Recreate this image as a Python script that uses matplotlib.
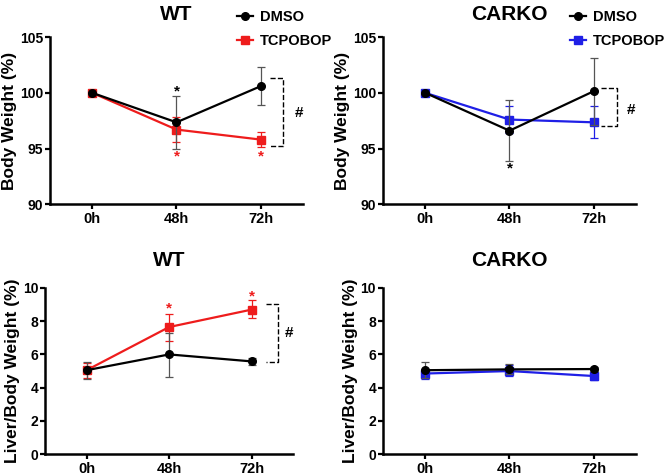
import numpy as np
import matplotlib.pyplot as plt

plt.rcParams['font.family'] = ['Liberation Sans', 'DejaVu Sans']
plt.rcParams['font.weight'] = 'bold'

times = ['0h', '48h', '72h']

# body weight (%), WT
wt_bw_dmso = [100.0, 97.35, 100.6]
wt_bw_dmso_lo = [100.0, 94.95, 98.9]
wt_bw_dmso_hi = [100.0, 99.7, 102.3]
wt_bw_tc = [100.0, 96.7, 95.8]
wt_bw_tc_lo = [100.0, 95.6, 95.1]
wt_bw_tc_hi = [100.0, 97.8, 96.5]

# body weight (%), CARKO
ko_bw_dmso = [100.0, 96.6, 100.15]
ko_bw_dmso_lo = [100.0, 93.85, 97.1]
ko_bw_dmso_hi = [100.0, 99.4, 103.15]
ko_bw_tc = [100.0, 97.6, 97.35]
ko_bw_tc_lo = [100.0, 96.4, 95.9]
ko_bw_tc_hi = [100.0, 98.8, 98.8]

# liver/body weight (%), WT
wt_lw_dmso = [5.05, 6.0, 5.58]
wt_lw_dmso_lo = [4.55, 4.65, 5.35]
wt_lw_dmso_hi = [5.55, 7.3, 5.8]
wt_lw_tc = [5.05, 7.65, 8.7]
wt_lw_tc_lo = [4.6, 6.83, 8.18]
wt_lw_tc_hi = [5.5, 8.46, 9.25]

# liver/body weight (%), CARKO
ko_lw_dmso = [5.05, 5.1, 5.12]
ko_lw_dmso_lo = [4.6, 4.8, 5.0]
ko_lw_dmso_hi = [5.55, 5.4, 5.25]
ko_lw_tc = [4.85, 5.0, 4.7]
ko_lw_tc_lo = [4.55, 4.7, 4.45]
ko_lw_tc_hi = [5.1, 5.35, 4.95]

RED = '#ee1c1c'
BLUE = '#1f1fe6'
ERR_BLACK = '#555555'

fig = plt.figure(figsize=(6.66, 4.76), dpi=100)
ax_tl = fig.add_axes([0.075, 0.571, 0.38, 0.351])
ax_tr = fig.add_axes([0.575, 0.571, 0.38, 0.351])
ax_bl = fig.add_axes([0.068, 0.046, 0.372, 0.349])
ax_br = fig.add_axes([0.575, 0.046, 0.38, 0.349])

x = np.arange(len(times))


def draw(ax, d, dlo, dhi, t, tlo, thi, tcol):
    d, dlo, dhi = map(np.array, (d, dlo, dhi))
    t, tlo, thi = map(np.array, (t, tlo, thi))
    ax.errorbar(x, t, yerr=[t - tlo, thi - t], color=tcol, ecolor=tcol,
                marker='s', ms=6, lw=1.6, elinewidth=0.9, capsize=3,
                capthick=0.9, label='TCPOBOP', zorder=3)
    ax.errorbar(x, d, yerr=[d - dlo, dhi - d], color='black', ecolor=ERR_BLACK,
                marker='o', ms=5.5, lw=1.6, elinewidth=0.9, capsize=3,
                capthick=0.9, label='DMSO', zorder=4)
    ax.set_xlim(-0.5, 2.5)
    ax.set_xticks(x)
    ax.set_xticklabels(times)
    for s in ('top', 'right'):
        ax.spines[s].set_visible(False)
    for s in ('left', 'bottom'):
        ax.spines[s].set_linewidth(1.8)
    ax.tick_params(width=1.6, length=3.5, pad=1.5)
    ax.tick_params(axis='x', labelsize=10.5, pad=2)
    ax.tick_params(axis='y', labelsize=10)
    for lab in ax.get_xticklabels() + ax.get_yticklabels():
        lab.set_fontweight('bold')


def bracket(ax, xa, xb, ylo, yhi, xtxt, ytxt):
    ax.plot([xa, xb, xb, xa], [yhi, yhi, ylo, ylo], ls='--', color='black',
            lw=1.0, clip_on=False)
    ax.text(xtxt, ytxt, '#', fontsize=11, fontweight='bold', ha='center', va='center')


draw(ax_tl, wt_bw_dmso, wt_bw_dmso_lo, wt_bw_dmso_hi, wt_bw_tc, wt_bw_tc_lo, wt_bw_tc_hi, RED)
draw(ax_tr, ko_bw_dmso, ko_bw_dmso_lo, ko_bw_dmso_hi, ko_bw_tc, ko_bw_tc_lo, ko_bw_tc_hi, BLUE)
draw(ax_bl, wt_lw_dmso, wt_lw_dmso_lo, wt_lw_dmso_hi, wt_lw_tc, wt_lw_tc_lo, wt_lw_tc_hi, RED)
draw(ax_br, ko_lw_dmso, ko_lw_dmso_lo, ko_lw_dmso_hi, ko_lw_tc, ko_lw_tc_lo, ko_lw_tc_hi, BLUE)

for ax in (ax_tl, ax_tr):
    ax.set_ylim(90, 105)
    ax.set_yticks([90, 95, 100, 105])
    ax.set_ylabel('Body Weight (%)', fontsize=12.5, fontweight='bold', labelpad=2)
for ax in (ax_bl, ax_br):
    ax.set_ylim(0, 10)
    ax.set_yticks([0, 2, 4, 6, 8, 10])
    ax.set_ylabel('Liver/Body Weight (%)', fontsize=12.5, fontweight='bold', labelpad=2)

ax_tl.set_title('WT', fontsize=15, fontweight='bold', pad=12)
ax_tr.set_title('CARKO', fontsize=15, fontweight='bold', pad=12)
ax_bl.set_title('WT', fontsize=15, fontweight='bold', pad=16)
ax_br.set_title('CARKO', fontsize=15, fontweight='bold', pad=16)

# significance stars
ax_tl.text(1, 100.1, '*', color='black', ha='center', va='center', fontsize=11)
ax_tl.text(1, 94.3, '*', color=RED, ha='center', va='center', fontsize=11)
ax_tl.text(2, 94.3, '*', color=RED, ha='center', va='center', fontsize=11)
ax_tr.text(1, 93.2, '*', color='black', ha='center', va='center', fontsize=11)
ax_bl.text(1, 8.75, '*', color=RED, ha='center', va='center', fontsize=11)
ax_bl.text(2, 9.5, '*', color=RED, ha='center', va='center', fontsize=11)

bracket(ax_tl, 2.11, 2.26, 95.2, 101.3, 2.45, 98.2)
bracket(ax_tr, 2.08, 2.27, 97.0, 100.4, 2.44, 98.5)
bracket(ax_bl, 2.17, 2.32, 5.55, 9.05, 2.45, 7.3)

for ax in (ax_tl, ax_tr):
    h, l = ax.get_legend_handles_labels()
    lines = [c[0] for c in h[::-1]]  # line+marker only, no error caps
    ax.legend(lines, l[::-1], loc='upper left', bbox_to_anchor=(0.7, 1.222),
              frameon=False, handlelength=1.1, handletextpad=0.45,
              labelspacing=0.65, borderpad=0.2,
              prop={'weight': 'bold', 'size': 10.5})

fig.savefig('out.png', dpi=100)
